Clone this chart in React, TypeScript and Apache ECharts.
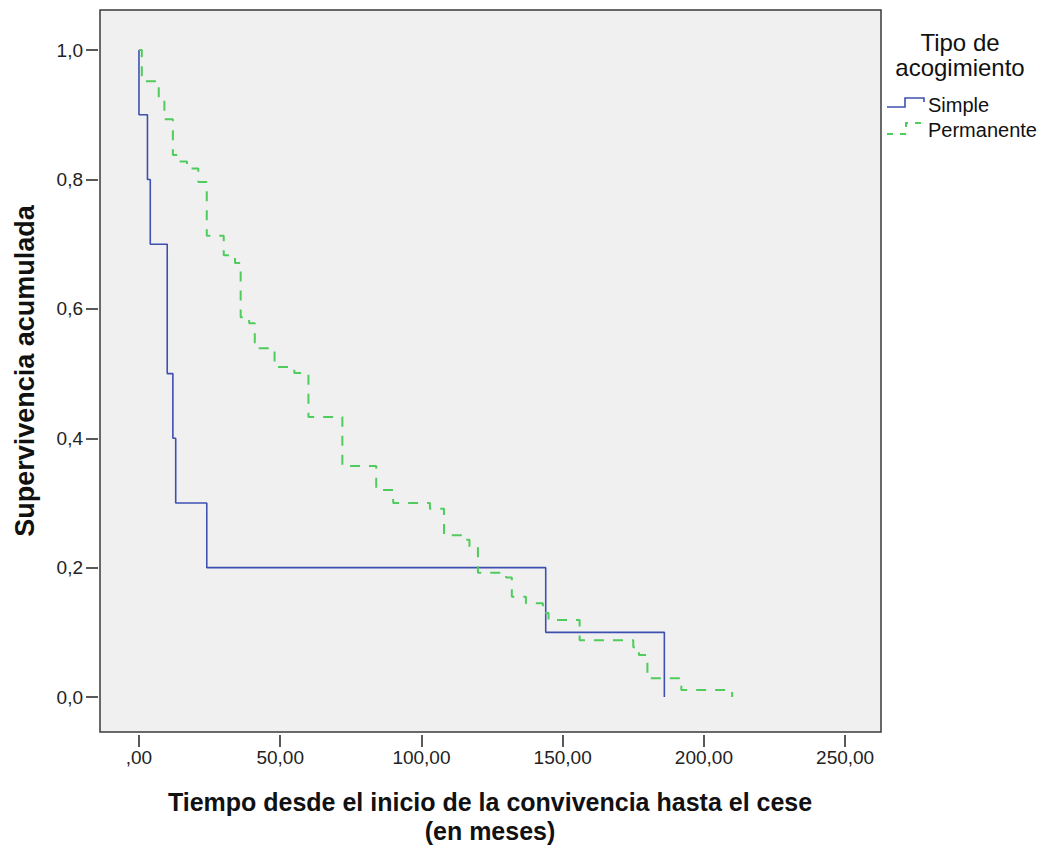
import React, { useEffect, useRef } from "react";
import * as echarts from "echarts";

// Kaplan-Meier steps
const simpleTimes = [0, 0, 3, 4, 10, 12, 13, 24, 144, 186];
const simpleSurv = [1.0, 0.9, 0.8, 0.7, 0.5, 0.4, 0.3, 0.2, 0.1, 0.0];

const permTimes = [0, 1, 7, 9, 12, 14, 17, 21, 24, 30, 34, 36, 39, 41, 48, 55, 60, 72, 84, 90, 103, 108, 115, 117, 120, 130, 132, 137, 143, 145, 156, 175, 177, 180, 192, 210];
const permSurv = [1, 0.952, 0.923, 0.893, 0.838, 0.828, 0.817, 0.796, 0.713, 0.683, 0.671, 0.587, 0.578, 0.539, 0.51, 0.501, 0.433, 0.357, 0.32, 0.3, 0.291, 0.25, 0.243, 0.232, 0.192, 0.185, 0.155, 0.145, 0.13, 0.119, 0.088, 0.077, 0.065, 0.029, 0.011, 0];

const xTicks = [0, 50, 100, 150, 200, 250];
const yTicks = [0, 0.2, 0.4, 0.6, 0.8, 1.0];

const seriesNames = ["Simple", "Permanente"];
const legendTitle = ["Tipo de", "acogimiento"];
const xTitle = "Tiempo desde el inicio de la convivencia hasta el cese\n(en meses)";
const yTitle = "Supervivencia acumulada";

const BLUE = "#3d50b0";
const GREEN = "#4fcc5c";
const FONT = "Liberation Sans, Arial, sans-serif";

export default function App() {
  const ref = useRef<HTMLDivElement>(null);
  useEffect(() => {
    if (!ref.current) return;
    const chart = echarts.init(ref.current, undefined, { renderer: "svg" });
    const zip = (t: number[], s: number[]) => t.map((v, i) => [v, s[i]]);
    chart.setOption({
      animation: false,
      backgroundColor: "#ffffff",
      textStyle: { fontFamily: FONT },
      grid: {
        left: 100,
        top: 10,
        width: 781,
        height: 722,
        containLabel: false,
        outerBoundsMode: "none",
        show: true,
        backgroundColor: "#f0f0f0",
        borderColor: "#3a3a3a",
        borderWidth: 1.5,
      },
      xAxis: {
        type: "value",
        min: -13.8,
        max: 262.7,
        offset: 3,
        splitLine: { show: false },
        axisLine: { show: false, onZero: false },
        axisTick: { show: true, length: 12, customValues: xTicks, lineStyle: { color: "#222", width: 1.5 } },
        axisLabel: {
          customValues: xTicks,
          margin: 13,
          fontSize: 19,
          color: "#222",
          fontFamily: FONT,
          formatter: (v: number) => (v === 0 ? ",00" : v.toFixed(2).replace(".", ",")),
        },
      },
      yAxis: {
        type: "value",
        min: -0.054,
        max: 1.062,
        offset: 2,
        splitLine: { show: false },
        axisLine: { show: false, onZero: false },
        axisTick: { show: true, length: 12, customValues: yTicks, lineStyle: { color: "#222", width: 1.5 } },
        axisLabel: {
          customValues: yTicks,
          margin: 15,
          fontSize: 19,
          color: "#222",
          fontFamily: FONT,
          formatter: (v: number) => v.toFixed(1).replace(".", ","),
        },
        name: yTitle,
        nameLocation: "middle",
        nameGap: 60,
        nameRotate: 90,
        nameTextStyle: { fontSize: 27, fontWeight: "bold", color: "#111", fontFamily: FONT },
      },
      series: [
        {
          name: seriesNames[0],
          type: "line",
          step: "end",
          showSymbol: false,
          data: zip(simpleTimes, simpleSurv),
          lineStyle: { color: BLUE, width: 1.6 },
          itemStyle: { color: BLUE },
        },
        {
          name: seriesNames[1],
          type: "line",
          step: "end",
          showSymbol: false,
          data: zip(permTimes, permSurv),
          lineStyle: { color: GREEN, width: 2, type: [10, 9] },
          itemStyle: { color: GREEN },
        },
      ],
      graphic: [
        { type: "text", x: 490, y: 816, style: { text: xTitle, font: `bold 25px ${FONT}`, lineHeight: 29, fill: "#111", align: "center", verticalAlign: "middle" } },
        { type: "text", x: 960, y: 42, style: { text: legendTitle[0], font: `24px ${FONT}`, fill: "#111", align: "center", verticalAlign: "middle" } },
        { type: "text", x: 960, y: 67, style: { text: legendTitle[1], font: `24px ${FONT}`, fill: "#111", align: "center", verticalAlign: "middle" } },
        {
          type: "polyline",
          shape: { points: [[887, 107], [905, 107], [905, 98], [924, 98], [924, 102]] },
          style: { stroke: BLUE, lineWidth: 1.6, fill: "none" },
        },
        {
          type: "polyline",
          shape: { points: [[887, 134], [906, 134], [906, 123], [924, 123], [924, 127]] },
          style: { stroke: GREEN, lineWidth: 2, fill: "none", lineDash: [6, 7] },
        },
        { type: "text", x: 928, y: 105, style: { text: seriesNames[0], font: `20px ${FONT}`, fill: "#111", align: "left", verticalAlign: "middle" } },
        { type: "text", x: 928, y: 130, style: { text: seriesNames[1], font: `20px ${FONT}`, fill: "#111", align: "left", verticalAlign: "middle" } },
      ],
    });
    return () => chart.dispose();
  }, []);
  return (
    <div
      ref={ref}
      style={{ position: "fixed", left: 0, top: 0, width: 1039, height: 845, background: "#fff" }}
    />
  );
}
